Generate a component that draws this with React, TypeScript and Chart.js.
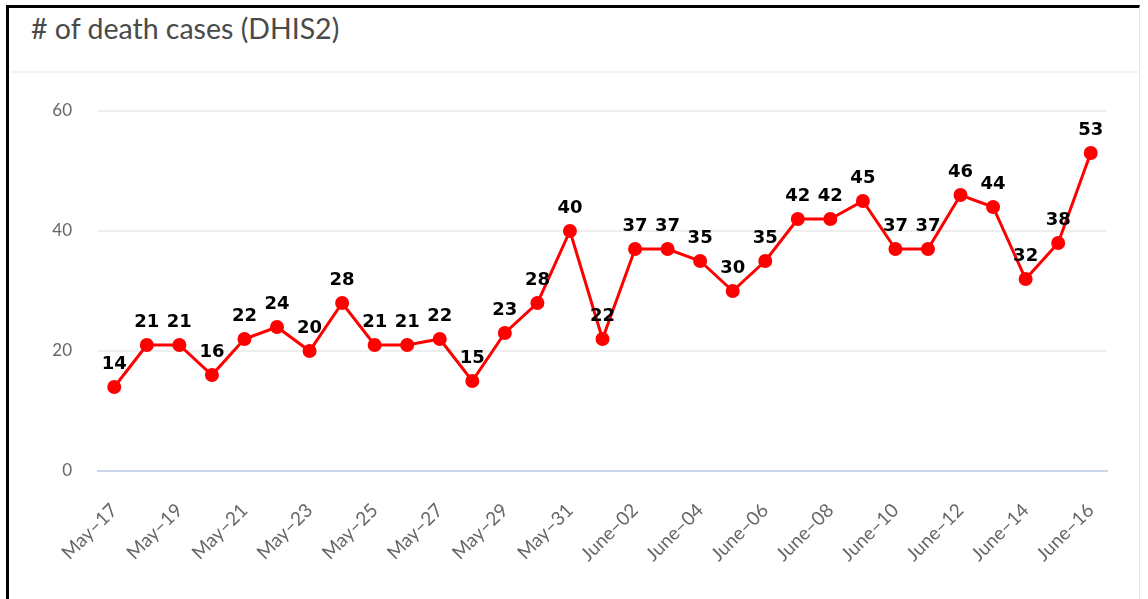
import React, { useEffect, useRef } from "react";
import { Chart, registerables } from "chart.js";

Chart.register(...registerables);

const categories: string[] = [
  "May–17", "May–18", "May–19", "May–20", "May–21", "May–22", "May–23", "May–24",
  "May–25", "May–26", "May–27", "May–28", "May–29", "May–30", "May–31",
  "June–01", "June–02", "June–03", "June–04", "June–05", "June–06", "June–07",
  "June–08", "June–09", "June–10", "June–11", "June–12", "June–13", "June–14",
  "June–15", "June–16",
];

const deathCases: number[] = [
  14, 21, 21, 16, 22, 24, 20, 28, 21, 21, 22, 15, 23, 28, 40,
  22, 37, 37, 35, 30, 35, 42, 42, 45, 37, 37, 46, 44, 32, 38, 53,
];

const yTicks: number[] = [0, 20, 40, 60];

const titleText = "# of death cases (DHIS2)";

const valueLabelPlugin = {
  id: "valueLabels",
  afterDatasetsDraw(chart: any) {
    const ctx = chart.ctx;
    const meta = chart.getDatasetMeta(0);
    const data = chart.data.datasets[0].data as number[];
    ctx.save();
    ctx.font = "bold 18px 'DejaVu Sans', Verdana, sans-serif";
    ctx.fillStyle = "#000000";
    ctx.textAlign = "center";
    ctx.textBaseline = "alphabetic";
    meta.data.forEach((pt: any, i: number) => {
      ctx.fillText(String(data[i]), pt.x, pt.y - 18);
    });
    ctx.restore();
  },
};

export default function App() {
  const canvasRef = useRef<HTMLCanvasElement | null>(null);

  useEffect(() => {
    if (!canvasRef.current) return;
    const chart = new Chart(canvasRef.current, {
      type: "line",
      data: {
        labels: categories,
        datasets: [
          {
            data: deathCases,
            borderColor: "#ff0000",
            backgroundColor: "#ff0000",
            borderWidth: 3,
            pointRadius: 7,
            pointHoverRadius: 7,
            pointBackgroundColor: "#ff0000",
            pointBorderWidth: 0,
            tension: 0,
            clip: false as any,
          },
        ],
      },
      options: {
        animation: false,
        responsive: false,
        layout: { padding: { top: 111, left: 0, right: 41, bottom: 28 } },
        plugins: {
          legend: { display: false },
          tooltip: { enabled: false },
          title: { display: false },
        },
        scales: {
          x: {
            type: "category",
            offset: true,
            grid: { display: false, drawTicks: false },
            border: { display: true, color: "#ccd6eb", width: 2 },
            ticks: {
              autoSkip: false,
              maxRotation: 45,
              minRotation: 45,
              padding: 28,
              color: "#666666",
              font: { family: "Lato, 'Open Sans', sans-serif", size: 19 },
              callback: (_v: any, idx: number) => (idx % 2 === 0 ? categories[idx] : ""),
            },
            afterFit: (scale: any) => {
              scale.height = 100;
            },
          },
          y: {
            min: 0,
            max: 60,
            afterBuildTicks: (scale: any) => {
              scale.ticks = yTicks.map((v) => ({ value: v }));
            },
            grid: {
              drawTicks: false,
              lineWidth: 2,
              color: (c: any) => (c.tick && c.tick.value === 0 ? "#ccd6eb" : "#eeeeee"),
            },
            border: { display: false },
            ticks: {
              padding: 26,
              color: "#666666",
              font: { family: "Lato, 'Open Sans', sans-serif", size: 17 },
            },
            afterFit: (scale: any) => {
              scale.width = 98;
            },
          },
        },
      },
      plugins: [valueLabelPlugin],
    });
    return () => chart.destroy();
  }, []);

  return (
    <div style={{ position: "fixed", left: 0, top: 0, width: 1148, height: 599, background: "#ffffff", overflow: "hidden" }}>
      <div
        style={{
          position: "absolute",
          left: 6,
          top: 5,
          width: 1134,
          height: 700,
          borderTop: "3px solid #000000",
          borderLeft: "3px solid #000000",
          borderRight: "1px solid #e6e6e6",
          boxSizing: "border-box",
        }}
      />
      <div
        style={{
          position: "absolute",
          left: 31,
          top: 14,
          fontFamily: "Lato, 'Open Sans', sans-serif",
          fontSize: 28.5,
          lineHeight: "28px",
          color: "#4a4a4a",
          whiteSpace: "nowrap",
        }}
      >
        {titleText}
      </div>
      <div style={{ position: "absolute", left: 12, top: 71, width: 1128, height: 2, background: "#f2f2f2" }} />
      <canvas
        ref={canvasRef}
        width={1148}
        height={599}
        style={{ position: "absolute", left: 0, top: 0, width: 1148, height: 599 }}
      />
    </div>
  );
}
